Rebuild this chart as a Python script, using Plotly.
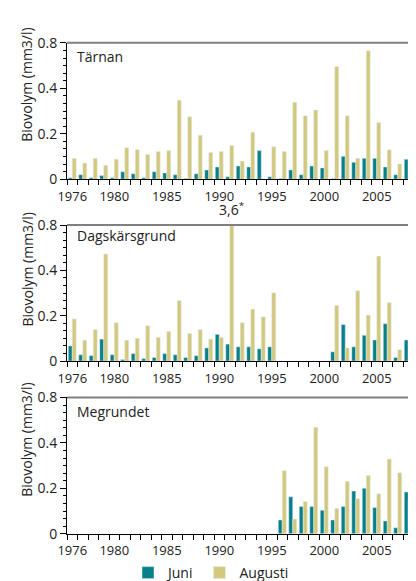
import plotly.graph_objects as go

years = list(range(1976, 2010))

tarnan_juni = [0.007, 0.02, 0.007, 0.016, 0.007, 0.033, 0.024, 0.007, 0.033, 0.028,
               0.02, 0.003, 0.024, 0.041, 0.054, 0.011, 0.058, 0.054, 0.126, 0.011,
               0.003, 0.041, 0.02, 0.058, 0.05, 0.003, 0.101, 0.075, 0.092, 0.092,
               0.054, 0.02, 0.088, 0.062]
tarnan_aug = [0.092, 0.071, 0.092, 0.062, 0.088, 0.139, 0.13, 0.109, 0.122, 0.126,
              0.348, 0.275, 0.194, 0.118, 0.122, 0.148, 0.08, 0.207, None, 0.143,
              0.122, 0.339, 0.279, 0.305, 0.126, 0.496, 0.279, 0.092, 0.565, 0.25,
              0.13, 0.067, 0.152, 0.126]

dag_juni = [0.067, 0.028, 0.024, 0.097, 0.028, 0.007, 0.033, 0.011, 0.016, 0.033,
            0.028, 0.016, 0.024, 0.058, 0.118, 0.075, 0.063, 0.063, 0.054, 0.063,
            None, None, None, None, None,
            0.041, 0.161, 0.063, 0.114, 0.093, 0.165, 0.016, 0.093, 0.075]
dag_aug = [0.186, 0.092, 0.139, 0.472, 0.169, 0.092, 0.101, 0.156, 0.105, 0.131,
           0.267, 0.122, 0.139, 0.097, 0.105, 3.6, 0.169, 0.229, 0.195, 0.301,
           None, None, None, None, None,
           0.246, 0.058, 0.31, 0.203, 0.463, 0.258, 0.05, 0.101, 0.18]

meg_juni = [None] * 20 + [0.061, 0.163, 0.12, 0.12, 0.104, 0.061, 0.12, 0.188, 0.201,
                          0.116, 0.057, 0.027, 0.184, 0.061]
meg_aug = [None] * 20 + [0.278, 0.065, 0.142, 0.469, 0.295, 0.112, 0.231, 0.155, 0.257,
                         0.176, 0.329, 0.269, 0.15, 0.12]

panel_names = ["Tärnan", "Dagskärsgrund", "Megrundet"]
x_tick_years = [1976, 1980, 1985, 1990, 1995, 2000, 2005]
y_tick_vals = [0, 0.2, 0.4, 0.6]
y_tick_text = ["0", "0.2", "0.4", "0.8"]

TEAL = "#08808a"
YELLOW = "#d2c97d"
FONT = "Open Sans"
W, H = 416, 581
L = 59


def py(p):
    return 1 - p / H


def px(p):
    return (p - L) / (W - L)


panels_px = [(25.7, 166.7), (214.0, 354.7), (392.3, 533.3)]
title_centers = [69, 260, 436]
label_y = [40, 225, 407]

data = [(tarnan_juni, tarnan_aug), (dag_juni, dag_aug), (meg_juni, meg_aug)]

fig = go.Figure()
layout = dict(
    width=W, height=H,
    margin=dict(l=L, r=0, t=0, b=0),
    paper_bgcolor="white", plot_bgcolor="white",
    barmode="group", bargap=0.24, bargroupgap=0,
    font=dict(family=FONT, size=13, color="#222"),
    showlegend=True,
    legend=dict(orientation="h", x=px(120), y=py(574), xanchor="left", yanchor="middle",
                font=dict(size=14, color="#222"), itemwidth=30, bgcolor="rgba(0,0,0,0)"),
)
annotations = []
shapes = []
for i, ((juni, aug), (top, bot)) in enumerate(zip(data, panels_px)):
    n = "" if i == 0 else str(i + 1)
    xa, ya = "x" + n, "y" + n
    fig.add_trace(go.Bar(x=years, y=juni, name="Juni", marker_color=TEAL,
                         xaxis=xa, yaxis=ya, showlegend=(i == 0)))
    fig.add_trace(go.Bar(x=years, y=aug, name="Augusti", marker_color=YELLOW,
                         xaxis=xa, yaxis=ya, showlegend=(i == 0)))
    layout["xaxis" + n] = dict(
        domain=[0, 1], anchor=ya, range=[1975.5, 2009.5],
        showline=True, linecolor="black", linewidth=1,
        tickvals=x_tick_years, ticks="outside", ticklen=5, tickcolor="rgba(0,0,0,0)",
        tickfont=dict(size=13, color="#222"),
        minor=dict(tick0=1975.5, dtick=1, ticks="outside", ticklen=5, tickcolor="black"),
        showgrid=False, zeroline=False, fixedrange=True,
    )
    layout["yaxis" + n] = dict(
        domain=[py(bot), py(top)], anchor=xa, range=[0, 0.6],
        showline=True, linecolor="black", linewidth=1,
        tickvals=y_tick_vals, ticktext=y_tick_text, ticks="outside", ticklen=6,
        tickcolor="black", tickfont=dict(size=14, color="#222"),
        minor=dict(tick0=0, dtick=0.2 / 6, ticks="outside", ticklen=3, tickcolor="black"),
        showgrid=False, zeroline=False, fixedrange=True,
    )
    shapes.append(dict(type="line", xref=xa + " domain", yref=ya + " domain",
                       x0=0, x1=1, y0=1, y1=1, line=dict(color="#808080", width=2)))
    annotations.append(dict(text="Biovolym (mm3/l)", textangle=-90, xref="paper", yref="paper",
                            x=px(19), y=py(title_centers[i]), xanchor="center", yanchor="middle",
                            showarrow=False, font=dict(size=14, color="#222")))
    annotations.append(dict(text=panel_names[i], xref="paper", yref="paper",
                            x=px(67), y=py(label_y[i]), xanchor="left", yanchor="middle",
                            showarrow=False, font=dict(size=14, color="#222")))

annotations.append(dict(text="3,6<sup>*</sup>", xref="x2", yref="y2 domain",
                        x=1991.2, y=1, xanchor="center", yanchor="bottom", yshift=4,
                        showarrow=False, font=dict(size=14, color="#222")))
layout["annotations"] = annotations
layout["shapes"] = shapes
fig.update_layout(**layout)
fig.write_html("out.html")
